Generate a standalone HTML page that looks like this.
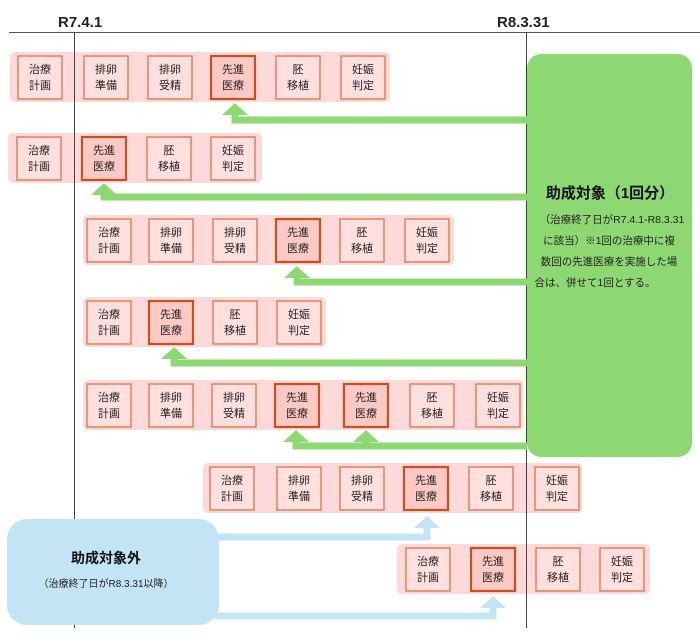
<!DOCTYPE html>
<html><head><meta charset="utf-8"><style>
html,body{margin:0;padding:0;background:#fff;}
svg{display:block;font-family:"Liberation Sans","Noto Sans CJK JP",sans-serif;}
.b{fill:#ffe0df;stroke:#e0704a;stroke-width:1.3;}
.bb{fill:#fdc9c4;stroke:#c8501e;stroke-width:2.2;}
.band{fill:#fdd9d9;}
.t{font-size:11px;fill:#222;text-anchor:middle;}
.g{fill:none;stroke:#8ed873;stroke-width:7;}
.gh{fill:#8ed873;}
.l{fill:none;stroke:#c2e4f4;stroke-width:7;}
.lh{fill:#c2e4f4;}
</style></head><body>
<svg width="700" height="644" viewBox="0 0 700 644" xmlns="http://www.w3.org/2000/svg">
<text x="58" y="27" font-size="15" font-weight="bold" fill="#222">R7.4.1</text>
<text x="497" y="27" font-size="15" font-weight="bold" fill="#222">R8.3.31</text>
<line x1="9" y1="32.5" x2="700" y2="32.5" stroke="#555" stroke-width="1"/>

<rect class="band" x="10" y="52" width="380" height="50" rx="5"/>
<rect class="band" x="8" y="133" width="254" height="50" rx="5"/>
<rect class="band" x="83" y="215" width="371" height="50" rx="5"/>
<rect class="band" x="83" y="297" width="243" height="50" rx="5"/>
<rect class="band" x="83" y="380" width="440" height="50" rx="5"/>
<rect class="band" x="203" y="463" width="379" height="50" rx="5"/>
<rect class="band" x="397" y="544" width="253" height="50" rx="5"/>

<line x1="74.5" y1="32" x2="74.5" y2="628" stroke="#444" stroke-width="1"/>
<line x1="526.5" y1="32" x2="526.5" y2="628" stroke="#444" stroke-width="1"/>

<g>
<rect class="b" x="18" y="56" width="44" height="43"/><text class="t" x="40" y="73">治療</text><text class="t" x="40" y="89">計画</text>
<rect class="b" x="84" y="56" width="44" height="43"/><text class="t" x="106" y="73">排卵</text><text class="t" x="106" y="89">準備</text>
<rect class="b" x="148" y="56" width="44" height="43"/><text class="t" x="170" y="73">排卵</text><text class="t" x="170" y="89">受精</text>
<rect class="bb" x="211" y="56" width="44" height="43"/><text class="t" x="233" y="73">先進</text><text class="t" x="233" y="89">医療</text>
<rect class="b" x="276" y="56" width="44" height="43"/><text class="t" x="298" y="73">胚</text><text class="t" x="298" y="89">移植</text>
<rect class="b" x="341" y="56" width="44" height="43"/><text class="t" x="363" y="73">妊娠</text><text class="t" x="363" y="89">判定</text>
</g>
<g>
<rect class="b" x="17" y="137" width="44" height="43"/><text class="t" x="39" y="154">治療</text><text class="t" x="39" y="170">計画</text>
<rect class="bb" x="82" y="137" width="44" height="43"/><text class="t" x="104" y="154">先進</text><text class="t" x="104" y="170">医療</text>
<rect class="b" x="147" y="137" width="44" height="43"/><text class="t" x="169" y="154">胚</text><text class="t" x="169" y="170">移植</text>
<rect class="b" x="211" y="137" width="44" height="43"/><text class="t" x="233" y="154">妊娠</text><text class="t" x="233" y="170">判定</text>
</g>
<g>
<rect class="b" x="87" y="219" width="44" height="43"/><text class="t" x="109" y="236">治療</text><text class="t" x="109" y="252">計画</text>
<rect class="b" x="149" y="219" width="44" height="43"/><text class="t" x="171" y="236">排卵</text><text class="t" x="171" y="252">準備</text>
<rect class="b" x="213" y="219" width="44" height="43"/><text class="t" x="235" y="236">排卵</text><text class="t" x="235" y="252">受精</text>
<rect class="bb" x="276" y="219" width="44" height="43"/><text class="t" x="298" y="236">先進</text><text class="t" x="298" y="252">医療</text>
<rect class="b" x="340" y="219" width="44" height="43"/><text class="t" x="362" y="236">胚</text><text class="t" x="362" y="252">移植</text>
<rect class="b" x="405" y="219" width="44" height="43"/><text class="t" x="427" y="236">妊娠</text><text class="t" x="427" y="252">判定</text>
</g>
<g>
<rect class="b" x="87" y="301" width="44" height="43"/><text class="t" x="109" y="318">治療</text><text class="t" x="109" y="334">計画</text>
<rect class="bb" x="149" y="301" width="44" height="43"/><text class="t" x="171" y="318">先進</text><text class="t" x="171" y="334">医療</text>
<rect class="b" x="213" y="301" width="44" height="43"/><text class="t" x="235" y="318">胚</text><text class="t" x="235" y="334">移植</text>
<rect class="b" x="277" y="301" width="44" height="43"/><text class="t" x="299" y="318">妊娠</text><text class="t" x="299" y="334">判定</text>
</g>
<g>
<rect class="b" x="87" y="384" width="44" height="43"/><text class="t" x="109" y="401">治療</text><text class="t" x="109" y="417">計画</text>
<rect class="b" x="149" y="384" width="44" height="43"/><text class="t" x="171" y="401">排卵</text><text class="t" x="171" y="417">準備</text>
<rect class="b" x="212" y="384" width="44" height="43"/><text class="t" x="234" y="401">排卵</text><text class="t" x="234" y="417">受精</text>
<rect class="bb" x="275" y="384" width="44" height="43"/><text class="t" x="297" y="401">先進</text><text class="t" x="297" y="417">医療</text>
<rect class="bb" x="344" y="384" width="44" height="43"/><text class="t" x="366" y="401">先進</text><text class="t" x="366" y="417">医療</text>
<rect class="b" x="410" y="384" width="44" height="43"/><text class="t" x="432" y="401">胚</text><text class="t" x="432" y="417">移植</text>
<rect class="b" x="476" y="384" width="44" height="43"/><text class="t" x="498" y="401">妊娠</text><text class="t" x="498" y="417">判定</text>
</g>
<g>
<rect class="b" x="210" y="467" width="44" height="43"/><text class="t" x="232" y="484">治療</text><text class="t" x="232" y="500">計画</text>
<rect class="b" x="277" y="467" width="44" height="43"/><text class="t" x="299" y="484">排卵</text><text class="t" x="299" y="500">準備</text>
<rect class="b" x="340" y="467" width="44" height="43"/><text class="t" x="362" y="484">排卵</text><text class="t" x="362" y="500">受精</text>
<rect class="bb" x="404" y="467" width="44" height="43"/><text class="t" x="426" y="484">先進</text><text class="t" x="426" y="500">医療</text>
<rect class="b" x="469" y="467" width="44" height="43"/><text class="t" x="491" y="484">胚</text><text class="t" x="491" y="500">移植</text>
<rect class="b" x="535" y="467" width="44" height="43"/><text class="t" x="557" y="484">妊娠</text><text class="t" x="557" y="500">判定</text>
</g>
<g>
<rect class="b" x="406" y="548" width="44" height="43"/><text class="t" x="428" y="565">治療</text><text class="t" x="428" y="581">計画</text>
<rect class="bb" x="471" y="548" width="44" height="43"/><text class="t" x="493" y="565">先進</text><text class="t" x="493" y="581">医療</text>
<rect class="b" x="536" y="548" width="44" height="43"/><text class="t" x="558" y="565">胚</text><text class="t" x="558" y="581">移植</text>
<rect class="b" x="600" y="548" width="44" height="43"/><text class="t" x="622" y="565">妊娠</text><text class="t" x="622" y="581">判定</text>
</g>

<polyline class="g" points="527,120 235,120 235,112"/>
<polygon class="gh" points="235,103 222,115 248,115"/>
<polyline class="g" points="527,197 104,197 104,192"/>
<polygon class="gh" points="104,183 91,195 117,195"/>
<polyline class="g" points="527,282 297,282 297,276"/>
<polygon class="gh" points="297,266 284,278 310,278"/>
<polyline class="g" points="527,363 174,363 174,358"/>
<polygon class="gh" points="174,347 161,359 187,359"/>
<polyline class="g" points="527,446 296,446 296,440"/>
<line class="g" x1="366" y1="446" x2="366" y2="440"/>
<polygon class="gh" points="296,430 283,442 309,442"/>
<polygon class="gh" points="366,430 353,442 379,442"/>

<rect x="527" y="54" width="165" height="403" rx="14" fill="#8ed873"/>
<text x="610" y="198" font-size="15" font-weight="bold" fill="#111" text-anchor="middle">助成対象（1回分）</text>
<text x="612" y="223" font-size="10.5" fill="#222" text-anchor="middle">（治療終了日がR7.4.1-R8.3.31</text>
<text x="609" y="244" font-size="10.5" fill="#222" text-anchor="middle">に該当）※1回の治療中に複</text>
<text x="609" y="265" font-size="10.5" fill="#222" text-anchor="middle">数回の先進医療を実施した場</text>
<text x="595" y="286" font-size="10.5" fill="#222" text-anchor="middle">合は、併せて1回とする。</text>

<polyline class="l" points="215,537 427,537 427,527"/>
<polygon class="lh" points="427,516 414,528 440,528"/>
<polyline class="l" points="215,616 493,616 493,607"/>
<polygon class="lh" points="493,596 480,608 506,608"/>
<rect x="7" y="519" width="212" height="106" rx="20" fill="#c2e4f4"/>
<text x="106" y="563" font-size="14" font-weight="bold" fill="#111" text-anchor="middle">助成対象外</text>
<text x="106" y="587" font-size="10" fill="#222" text-anchor="middle">（治療終了日がR8.3.31以降）</text>
</svg>
</body></html>
